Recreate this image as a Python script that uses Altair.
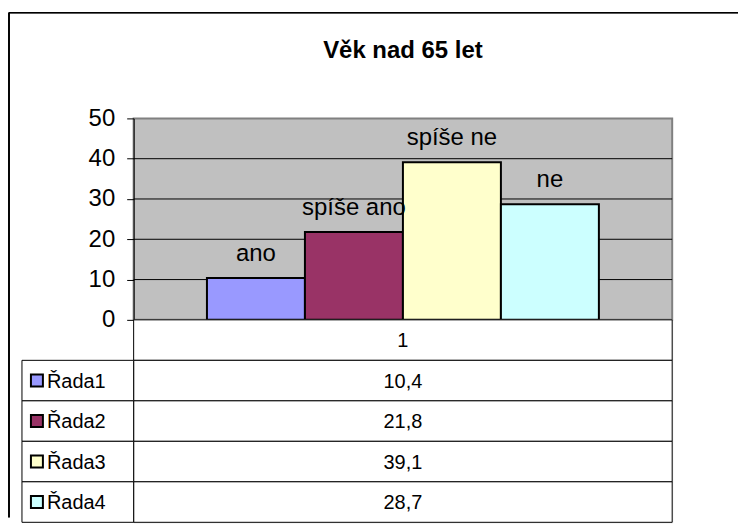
import altair as alt
import pandas as pd

# ---- data ----
title_text = "Věk nad 65 let"
category = "1"
series = ["Řada1", "Řada2", "Řada3", "Řada4"]
answer_labels = ["ano", "spíše ano", "spíše ne", "ne"]
values = [10.4, 21.8, 39.1, 28.7]
value_text = ["10,4", "21,8", "39,1", "28,7"]
colors = ["#9999FF", "#993366", "#FFFFCC", "#CCFFFF"]
y_ticks = [0, 10, 20, 30, 40, 50]
grid_values = [10, 20, 30, 40]

FONT = "Liberation Sans"
FS = 24
FS_TABLE = 20

bars_df = pd.DataFrame({
    "cat": [category] * len(series),
    "series": series,
    "label": answer_labels,
    "value": values,
})
grid_df = pd.DataFrame({"g": grid_values})

table_rows = [category] + series
table_df = pd.DataFrame({
    "col": [category] * len(table_rows),
    "row": table_rows,
    "text": [category] + value_text,
    "is_series": [False] + [True] * len(series),
})

# ---- top chart: bars ----
x_enc = alt.X("cat:N", axis=None,
              scale=alt.Scale(paddingInner=0, paddingOuter=0.187))
xoff_enc = alt.XOffset("series:N", sort=series,
                       scale=alt.Scale(paddingInner=0, paddingOuter=0))
y_scale = alt.Scale(domain=[0, 50], nice=False)
y_axis = alt.Axis(values=y_ticks, grid=False, title=None,
                  labelFont=FONT, labelFontSize=FS, labelColor="black",
                  tickColor="black", tickSize=7, domainColor="black",
                  domainWidth=1, labelPadding=12)

grid = alt.Chart(grid_df).mark_rule(color="black", strokeWidth=1).encode(
    y=alt.Y("g:Q", scale=y_scale, axis=y_axis)
)

bars = alt.Chart(bars_df).mark_bar(stroke="black", strokeWidth=2, opacity=1).encode(
    x=x_enc,
    xOffset=xoff_enc,
    y=alt.Y("value:Q", scale=y_scale, axis=y_axis),
    color=alt.Color("series:N", scale=alt.Scale(domain=series, range=colors),
                    legend=None),
)

labels = alt.Chart(bars_df).mark_text(font=FONT, fontSize=FS, color="black",
                                      dy=-24, baseline="middle").encode(
    x=x_enc,
    xOffset=xoff_enc,
    y=alt.Y("value:Q", scale=y_scale, axis=y_axis),
    text="label:N",
)

top = alt.layer(grid, bars, labels).properties(
    width=540, height=202,
    title=alt.Title(title_text, font=FONT, fontSize=FS, fontWeight="bold",
                    color="black", anchor="middle", offset=44),
    view=alt.ViewBackground(fill="#C0C0C0", stroke="#808080", strokeWidth=2),
)

# ---- bottom chart: data table ----
tx = alt.X("col:N", axis=None, scale=alt.Scale(paddingInner=0, paddingOuter=0))
ty = alt.Y("row:N", sort=table_rows, axis=None,
           scale=alt.Scale(paddingInner=0, paddingOuter=0))

tbase = alt.Chart(table_df)

cells = tbase.mark_rect(fill="white", stroke="black", strokeWidth=1).encode(
    x=tx, y=ty)
cell_text = tbase.mark_text(font=FONT, fontSize=FS_TABLE, color="black", dy=1).encode(
    x=tx, y=ty, text="text:N")

series_rows = tbase.transform_filter("datum.is_series")
legend_cells = series_rows.mark_rect(fill="white", stroke="black", strokeWidth=1).encode(
    x=alt.value(-112), x2=alt.value(0), y=ty)
swatches = series_rows.mark_square(size=144, stroke="black", strokeWidth=2,
                                   opacity=1).encode(
    x=alt.value(-97), y=ty,
    color=alt.Color("row:N", scale=alt.Scale(domain=series, range=colors),
                    legend=None),
)
legend_text = series_rows.mark_text(font=FONT, fontSize=FS_TABLE, color="black",
                                    align="left", dy=1).encode(
    x=alt.value(-87), y=ty, text="row:N")

# outer chart-area frame (top and left edges)
frame_top = alt.Chart(table_df).mark_rule(color="black", strokeWidth=1).encode(
    x=alt.value(-125), x2=alt.value(606), y=alt.value(-308))
frame_left = alt.Chart(table_df).mark_rule(color="black", strokeWidth=1).encode(
    x=alt.value(-125), y=alt.value(-308), y2=alt.value(198))

bottom = alt.layer(cells, cell_text, legend_cells, swatches, legend_text,
                   frame_top, frame_left).properties(width=540, height=203)

chart = alt.vconcat(top, bottom, spacing=0, bounds="flush").properties(
    padding={"left": 0, "top": 3, "right": 0, "bottom": 0}
).configure_view(strokeWidth=0).configure(background="white")

chart.save("out.html", embed_options={"renderer": "svg", "actions": False})
